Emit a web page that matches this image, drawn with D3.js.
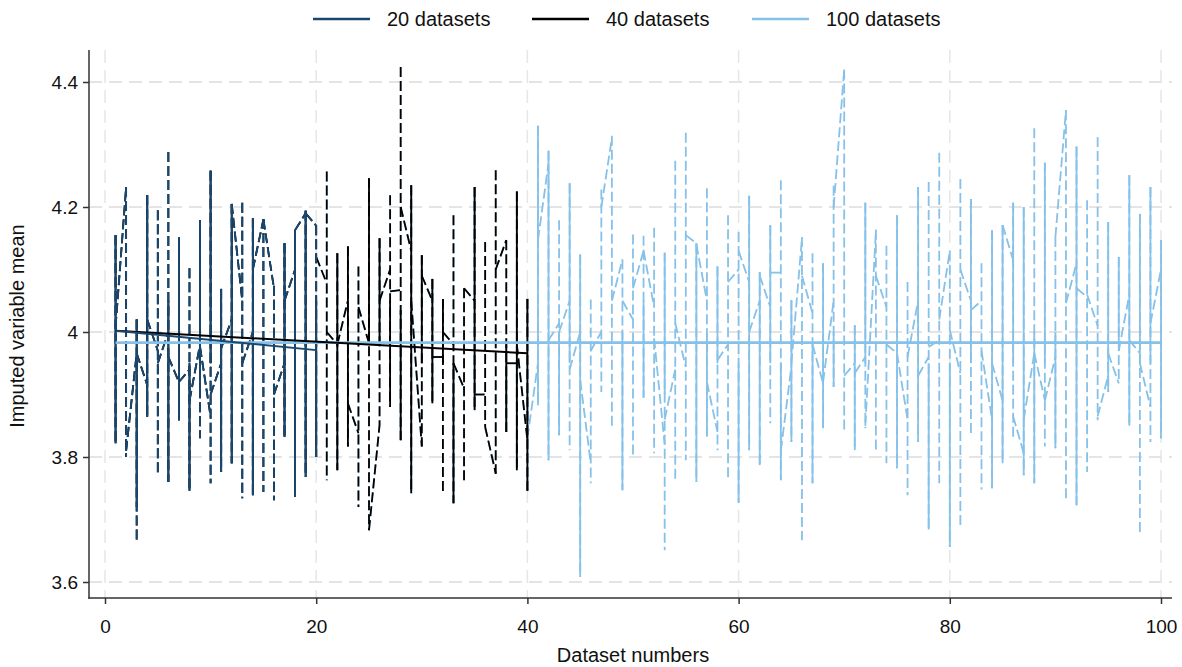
<!DOCTYPE html>
<html>
<head>
<meta charset="utf-8">
<script src="https://cdn.jsdelivr.net/npm/d3@7"></script>
<style>
  body { margin: 0; background: #fff; }
  svg { display: block; font-family: "Liberation Sans", Arial, sans-serif; }
</style>
</head>
<body>
<div class="chart"></div>
<script>
// values per dataset number (index 0 = dataset 1)
var hiVals = [
  4.155, 4.232, 4.02, 4.219, 4.195, 4.288, 4.152, 4.102, 4.179, 4.258,
  4.069, 4.205, 4.207, 4.182, 4.181, 4.074, 4.142, 4.163, 4.194, 4.171,
  4.257, 4.126, 4.137, 4.105, 4.246, 4.15, 4.219, 4.424, 4.235, 4.123,
  4.085, 4.053, 4.187, 4.07, 4.232, 4.144, 4.259, 4.147, 4.225, 4.053,
  4.33, 4.29, 4.179, 4.238, 4.124, 4.052, 4.228, 4.314, 4.116, 4.156,
  4.154, 4.167, 4.127, 4.274, 4.319, 4.142, 4.23, 4.105, 4.187, 4.16,
  4.218, 4.096, 4.171, 4.243, 4.051, 4.152, 4.126, 4.11, 4.234, 4.42,
  4.011, 4.207, 4.164, 4.138, 4.187, 4.08, 4.232, 4.24, 4.287, 4.13,
  4.245, 4.213, 4.11, 4.163, 4.171, 4.207, 4.2, 4.326, 4.271, 4.152,
  4.355, 4.297, 4.211, 4.312, 4.176, 4.12, 4.251, 4.189, 4.232, 4.147
];
var loVals = [
  3.822, 3.80, 3.662, 3.864, 3.771, 3.76, 3.859, 3.746, 3.83, 3.758,
  3.776, 3.79, 3.734, 3.739, 3.744, 3.731, 3.832, 3.736, 3.768, 3.80,
  3.763, 3.779, 3.817, 3.72, 3.683, 3.851, 3.88, 3.827, 3.742, 3.817,
  3.886, 3.744, 3.726, 3.758, 3.875, 3.848, 3.773, 3.84, 3.779, 3.746,
  3.883, 3.795, 3.835, 3.811, 3.608, 3.758, 3.904, 3.846, 3.747, 3.80,
  3.895, 3.806, 3.651, 3.76, 3.795, 3.76, 3.833, 3.811, 3.763, 3.727,
  3.811, 3.787, 3.854, 3.763, 3.824, 3.667, 3.758, 3.846, 3.912, 3.843,
  3.811, 3.846, 3.811, 3.79, 3.782, 3.739, 3.824, 3.684, 3.758, 3.656,
  3.688, 3.838, 3.748, 3.75, 3.79, 3.83, 3.771, 3.758, 3.817, 3.814,
  3.728, 3.723, 3.776, 3.859, 3.904, 3.918, 3.85, 3.68, 3.824, 3.83
];
// part of each spike that looks solid (null = only dashed)
var solidLo = [
  3.822, null, 3.72, 3.864, null, 3.76, 3.859, 3.746, 3.9, 3.95,
  3.776, 3.79, null, 3.739, null, null, 3.832, 3.736, 3.768, 3.80,
  null, 3.779, 3.817, null, 3.98, 3.98, 3.88, 3.827, 3.742, 3.95,
  3.886, 3.95, 3.726, null, 3.875, null, null, 3.84, 3.779, 3.746,
  3.883, 3.795, 3.835, 3.95, 3.608, null, null, null, 3.747, null,
  3.895, null, 3.9, null, null, 3.76, 3.833, 3.95, null, 3.727,
  3.811, 3.787, 3.95, 3.763, 3.824, null, 3.758, 3.846, 3.912, null,
  3.811, 3.95, null, null, 3.782, null, 3.824, 3.684, null, 3.656,
  null, 3.95, null, 3.75, 3.79, 3.95, 3.771, 3.758, 3.95, 3.814,
  null, 3.723, null, null, 3.904, 3.98, 3.85, 3.95, 3.95, 3.83
];
var solidHi = [
  4.155, null, 4.02, 4.219, null, 4.05, 4.152, 3.95, 4.179, 4.258,
  4.069, 4.205, null, 4.182, null, null, 4.142, 4.163, 4.194, 4.05,
  null, 4.126, 4.137, null, 4.246, 4.15, 4.05, 4.035, 4.235, 4.123,
  4.085, 4.053, 3.95, null, 4.232, null, null, 3.98, 4.225, 4.053,
  4.33, 4.29, 4.0, 4.238, 4.124, null, null, null, 4.0, null,
  4.05, null, 4.127, null, null, 4.142, 4.0, 4.105, null, 3.95,
  4.218, 4.096, 4.171, 3.95, 4.051, null, 3.98, 4.11, 4.0, null,
  4.011, 4.207, null, null, 4.187, null, 4.232, 3.95, null, 3.95,
  null, 4.213, null, 4.163, 4.171, 4.207, 4.2, 4.0, 4.271, 4.0,
  null, 4.297, null, null, 4.176, 4.12, 4.251, 4.189, 4.232, 4.147
];
// where the connecting dashed line enters / leaves each dataset
var enterVals = [
  4.0, 4.232, 3.966, 3.915, 3.97, 4.0, 3.92, 3.94, 3.98, 3.865,
  3.95, 4.02, 4.05, 4.0, 4.18, 4.07, 3.95, 4.1, 4.19, 4.17,
  4.078, 3.98, 4.05, 3.838, 3.982, 3.851, 4.1, 4.067, 4.13, 3.817,
  4.05, 3.96, 3.98, 3.91, 4.05, 3.9, 3.774, 4.147, 3.95, 3.827,
  3.95, 4.27, 4.014, 4.05, 4.0, 3.79, 4.0, 4.31, 4.116, 4.02,
  4.13, 4.04, 3.82, 3.94, 3.944, 4.142, 4.05, 3.84, 3.98, 4.1,
  4.08, 4.05, 4.04, 4.095, 3.945, 4.15, 4.03, 3.918, 4.05, 4.42,
  3.95, 3.96, 4.16, 4.04, 3.966, 3.86, 4.05, 3.96, 3.987, 4.13,
  3.934, 4.05, 4.05, 3.86, 3.89, 4.115, 3.806, 3.966, 3.891, 3.96,
  4.355, 4.11, 4.056, 4.01, 3.93, 3.918, 4.06, 3.966, 3.88, 4.1
];
var leaveVals = [
  4.008, 3.81, 3.966, 4.02, 3.95, 3.96, 3.92, 3.89, 3.976, 3.9,
  3.974, 4.205, 3.95, 4.1, 4.18, 3.9, 4.05, 4.163, 4.19, 4.12,
  4.0, 3.98, 3.886, 4.04, 3.683, 4.05, 4.065, 4.2, 4.05, 4.09,
  3.96, 4.0, 3.95, 4.07, 3.9, 3.848, 4.1, 3.95, 3.98, 3.83,
  4.147, 3.987, 4.0, 3.94, 3.923, 3.97, 4.2, 4.05, 4.05, 4.07,
  4.13, 3.99, 3.86, 4.014, 4.155, 4.14, 3.92, 3.955, 4.08, 4.13,
  4.0, 4.09, 4.095, 3.81, 3.95, 4.09, 3.98, 3.92, 4.2, 3.93,
  3.934, 3.85, 4.09, 3.98, 3.966, 3.96, 3.93, 3.976, 4.02, 4.003,
  4.1, 4.035, 3.97, 3.95, 4.171, 3.865, 3.86, 3.966, 3.89, 4.152,
  4.046, 4.07, 4.06, 3.865, 3.966, 3.97, 3.987, 3.95, 4.014, 4.1
];
// straight trend lines: value at first and last dataset
var trend20 = [4.002, 3.971];
var trend40 = [4.002, 3.966];
var trend100 = [3.983, 3.983];

var groupSizes = [20, 40, 100];
var groupNames = ["20 datasets", "40 datasets", "100 datasets"];
var groupColors = ["#1a476f", "#000000", "#85c1e9"];
var xTicks = [0, 20, 40, 60, 80, 100];
var yTicks = [3.6, 3.8, 4.0, 4.2, 4.4];

var svgWidth = 1182, svgHeight = 667;
var plotLeft = 89, plotRight = 1172, plotTop = 50, plotBottom = 598;

var svg = d3.select(".chart").append("svg")
  .attr("width", svgWidth)
  .attr("height", svgHeight);

var x = d3.scaleLinear().domain([0, 100]).range([105, 1161]);
var y = d3.scaleLinear().domain([3.6, 4.4]).range([582, 82]);

// gridlines
svg.append("g").selectAll("line")
  .data(yTicks).enter().append("line")
  .attr("x1", plotLeft).attr("x2", plotRight)
  .attr("y1", d => y(d)).attr("y2", d => y(d))
  .attr("stroke", "#dcdcdc").attr("stroke-width", 1.5)
  .attr("stroke-dasharray", "13,7");

svg.append("g").selectAll("line")
  .data(xTicks).enter().append("line")
  .attr("x1", d => x(d)).attr("x2", d => x(d))
  .attr("y1", plotTop).attr("y2", plotBottom)
  .attr("stroke", "#e6e6e6").attr("stroke-width", 1.5)
  .attr("stroke-dasharray", "13,7");

// draw the biggest group first so the smaller ones sit on top
var drawOrder = [2, 1, 0];
var chartGroup = svg.append("g");

drawOrder.forEach(function(g) {
  var n = groupSizes[g];
  var color = groupColors[g];
  var ids = d3.range(n);
  var layer = chartGroup.append("g");

  // dashed spikes
  layer.selectAll(".dspike").data(ids).enter().append("line")
    .attr("x1", i => x(i + 1)).attr("x2", i => x(i + 1))
    .attr("y1", i => y(hiVals[i])).attr("y2", i => y(loVals[i]))
    .attr("stroke", color).attr("stroke-width", 1.8)
    .attr("stroke-dasharray", "10,4");

  // connecting dashed line between datasets
  layer.selectAll(".link").data(ids.slice(0, n - 1)).enter().append("line")
    .attr("x1", i => x(i + 1)).attr("y1", i => y(leaveVals[i]))
    .attr("x2", i => x(i + 2)).attr("y2", i => y(enterVals[i + 1]))
    .attr("stroke", color).attr("stroke-width", 1.8)
    .attr("stroke-dasharray", "10,4");

  // solid parts of spikes
  layer.selectAll(".sspike").data(ids.filter(i => solidLo[i] !== null)).enter().append("line")
    .attr("x1", i => x(i + 1)).attr("x2", i => x(i + 1))
    .attr("y1", i => y(solidHi[i])).attr("y2", i => y(solidLo[i]))
    .attr("stroke", color).attr("stroke-width", 1.8);
});

// trend lines
var trends = [trend100, trend40, trend20];
var trendGroups = [2, 1, 0];
trends.forEach(function(t, k) {
  var g = trendGroups[k];
  chartGroup.append("line")
    .attr("x1", x(1)).attr("y1", y(t[0]))
    .attr("x2", x(groupSizes[g])).attr("y2", y(t[1]))
    .attr("stroke", groupColors[g])
    .attr("stroke-width", g == 2 ? 2.6 : 2);
});

// axes
var yAxis = d3.axisLeft(y).tickValues(yTicks).tickSize(6).tickPadding(5)
  .tickFormat(d3.format("~g"));
var xAxis = d3.axisBottom(x).tickValues(xTicks).tickSize(6).tickPadding(16);

var yG = svg.append("g").attr("transform", `translate(${plotLeft},0)`).call(yAxis);
var xG = svg.append("g").attr("transform", `translate(0,${plotBottom})`).call(xAxis);
[yG, xG].forEach(function(a) {
  a.select(".domain").remove();
  a.selectAll("line").attr("stroke", "#333").attr("stroke-width", 1.5);
  a.selectAll("text").attr("font-size", 19).attr("fill", "#111")
    .attr("font-family", "Liberation Sans, Arial, sans-serif");
});

svg.append("line")
  .attr("x1", plotLeft).attr("x2", plotLeft)
  .attr("y1", plotTop).attr("y2", plotBottom + 0.75)
  .attr("stroke", "#333").attr("stroke-width", 1.5);
svg.append("line")
  .attr("x1", plotLeft - 0.75).attr("x2", plotRight)
  .attr("y1", plotBottom).attr("y2", plotBottom)
  .attr("stroke", "#333").attr("stroke-width", 1.5);

// axis titles
svg.append("text")
  .attr("x", (105 + 1161) / 2).attr("y", 662)
  .attr("text-anchor", "middle")
  .attr("font-size", 20).attr("fill", "#111")
  .text("Dataset numbers");

svg.append("text")
  .attr("transform", `translate(24,${(plotTop + plotBottom) / 2 + 2}) rotate(-90)`)
  .attr("text-anchor", "middle")
  .attr("font-size", 20).attr("fill", "#111")
  .text("Imputed variable mean");

// legend
var legendX = [313, 532, 752];
var legend = svg.append("g");
groupNames.forEach(function(name, k) {
  legend.append("line")
    .attr("x1", legendX[k]).attr("x2", legendX[k] + 57)
    .attr("y1", 19).attr("y2", 19)
    .attr("stroke", groupColors[k]).attr("stroke-width", 2.5);
  legend.append("text")
    .attr("x", legendX[k] + 74).attr("y", 26)
    .attr("font-size", 20).attr("fill", "#111")
    .text(name);
});
</script>
</body>
</html>
